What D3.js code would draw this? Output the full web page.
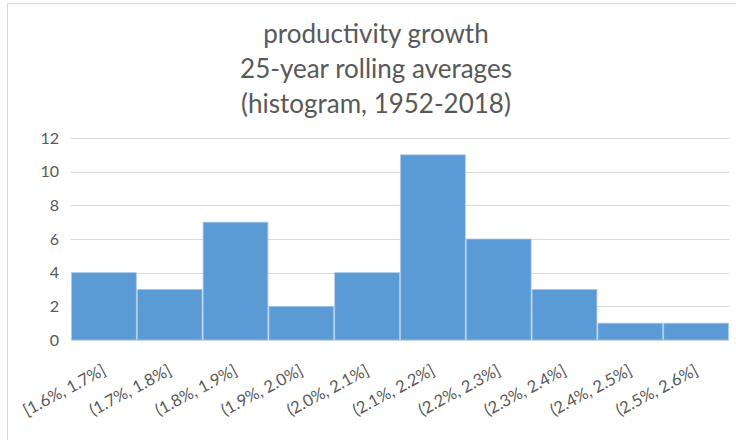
<!DOCTYPE html>
<html>
<head>
<meta charset="utf-8">
<script src="https://cdn.jsdelivr.net/npm/d3@7"></script>
<style>
  html, body { margin: 0; padding: 0; background: #fff; }
  svg { display: block; }
  text { font-family: Lato, "Open Sans", sans-serif; fill: #595959; }
</style>
</head>
<body>
<svg id="chart" width="736" height="440"></svg>
<script>
// Histogram bins of 25-year rolling average productivity growth
const bins = ["[1.6%, 1.7%]", "(1.7%, 1.8%]", "(1.8%, 1.9%]", "(1.9%, 2.0%]", "(2.0%, 2.1%]",
              "(2.1%, 2.2%]", "(2.2%, 2.3%]", "(2.3%, 2.4%]", "(2.4%, 2.5%]", "(2.5%, 2.6%]"];
const counts = [4, 3, 7, 2, 4, 11, 6, 3, 1, 1];
const yTicks = [0, 2, 4, 6, 8, 10, 12];
const titleLines = ["productivity growth", "25-year rolling averages", "(histogram, 1952-2018)"];

const svg = d3.select("#chart");
const W = 736, H = 440;
const plot = { left: 71, right: 729, top: 138, bottom: 340 };

// chart area frame
svg.append("path")
  .attr("d", `M7.5,${H} V3.5 H${W}`)
  .attr("fill", "none")
  .attr("stroke", "#d9d9d9")
  .attr("stroke-width", 1);

const x = d3.scaleBand().domain(bins).range([plot.left, plot.right]).padding(0);
const y = d3.scaleLinear().domain([0, 12]).range([plot.bottom, plot.top]);

// horizontal gridlines
svg.append("g")
  .selectAll("line")
  .data(yTicks)
  .join("line")
  .attr("x1", plot.left).attr("x2", plot.right)
  .attr("y1", d => Math.round(y(d)) + 0.5).attr("y2", d => Math.round(y(d)) + 0.5)
  .attr("stroke", "#d9d9d9").attr("stroke-width", 1);

// y tick labels
svg.append("g")
  .selectAll("text")
  .data(yTicks)
  .join("text")
  .attr("x", 59).attr("y", d => y(d))
  .attr("dy", "0.35em")
  .attr("text-anchor", "end")
  .style("font-size", "16px")
  .text(d => d);

// bars
svg.append("g")
  .selectAll("rect")
  .data(counts)
  .join("rect")
  .attr("x", (d, i) => x(bins[i]) + 0.5)
  .attr("y", d => y(d))
  .attr("width", x.bandwidth() - 1)
  .attr("height", d => y(0) - y(d))
  .attr("fill", "#5b9bd5")
  .attr("stroke", "#a9c8ea")
  .attr("stroke-width", 0.8);

// rotated category labels
svg.append("g")
  .selectAll("text")
  .data(bins)
  .join("text")
  .attr("transform", d => `translate(${x(d) + x.bandwidth() / 2 + 3},${plot.bottom + 34}) rotate(-28)`)
  .attr("text-anchor", "end")
  .style("font-size", "16.5px")
  .text(d => d);

// title
svg.append("g")
  .selectAll("text")
  .data(titleLines)
  .join("text")
  .attr("x", 376)
  .attr("y", (d, i) => 43 + i * 35)
  .attr("text-anchor", "middle")
  .style("font-size", "26px")
  .text(d => d);
</script>
</body>
</html>
